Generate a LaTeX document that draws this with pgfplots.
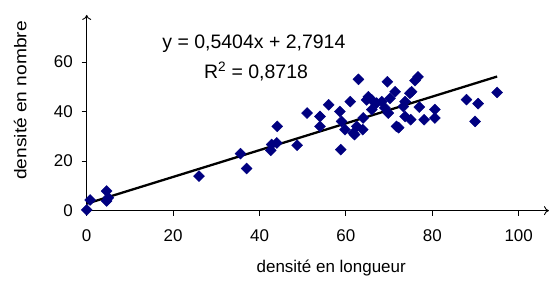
\documentclass[border=0pt]{standalone}
\usepackage{pgfplots}
\pgfplotsset{compat=1.18}
\usepackage{fontspec}
\setmainfont{Liberation Sans}
\usetikzlibrary{arrows.meta}
\definecolor{navy}{HTML}{000080}
\begin{document}
\fontsize{17bp}{20bp}\selectfont
\begin{tikzpicture}
\begin{axis}[
  scale only axis,
  width=463bp, height=196bp,
  xmin=0, xmax=107, ymin=0, ymax=79,
  axis lines=left,
  axis line style={line width=0.9bp, -{To[length=5bp,width=9bp]}},
  xtick={0,20,40,60,80,100},
  ytick={0,20,40,60},
  tick align=outside,
  major tick length=5bp,
  tick style={line width=0.9bp, black},
  /pgf/number format/assume math mode=true,
  ticklabel style={font=\fontsize{17bp}{20bp}\selectfont},
  xticklabel style={yshift=-8bp},
  yticklabel style={xshift=-3bp},
  clip=false,
  xlabel={densité en longueur},
  ylabel={\scalebox{1.13}[1]{densité en nombre}},
  xlabel style={at={(axis cs:56.6,-23)}, anchor=center},
  ylabel style={at={(axis cs:-15.4,44.5)}, anchor=center, rotate=0},
]
\addplot[only marks, mark=square*, mark size=3.9bp, mark options={rotate=45, fill=navy, draw=navy}] coordinates {
(0,0.3) (0.8,4.3) (4.6,3.9) (5,5.2) (4.6,7.9)
(26,13.9) (35.6,23) (37,17)
(42.6,24.3) (42.8,26.7) (44,27.3) (44.1,34) (48.7,26.4)
(51,39.4) (54,38) (54,34) (56,42.7) (58.6,40) (59,36) (59.8,32.7) (58.8,24.6)
(61,44) (61.7,31.3) (62,30.7) (62.5,34) (62.9,53) (63.9,32.7) (64,37.4)
(64.8,44.7) (65.2,46) (66,44.7) (66,40.8) (67.1,43.4) (68.3,44) (69,41.5)
(69.6,52) (69.8,39.4) (70.2,45.3) (71.4,48) (71.7,34) (72.2,33.5)
(73.3,42) (73.7,44) (73.7,38) (74.8,47.4) (75,36.7) (75.2,48) (76,52.5)
(76.7,54) (77,41.8) (78.1,36.7) (80.6,40.8) (80.6,37.4)
(87.9,44.8) (89.9,36) (90.6,43.2) (95,47.7)
};
\addplot[black, line width=2.3bp] coordinates {(0,2.7914) (95,54.1294)};
\node[anchor=center, font=\fontsize{19.5bp}{22bp}\selectfont] at (axis cs:38.7,67.2) {y = 0,5404x + 2,7914};
\node[anchor=center, font=\fontsize{19.5bp}{22bp}\selectfont] at (axis cs:39.2,56.1) {R\textsuperscript{2} = 0,8718};
\path (axis cs:-20.07,-27.65) rectangle (axis cs:108.4,85.03);
\end{axis}
\end{tikzpicture}
\end{document}
